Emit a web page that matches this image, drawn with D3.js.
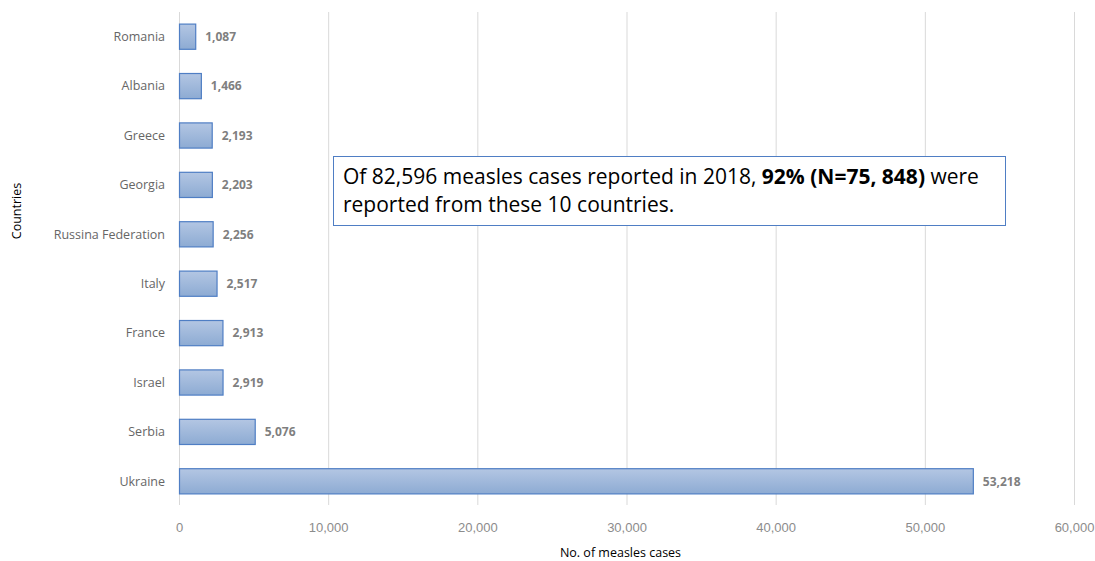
<!DOCTYPE html>
<html>
<head>
<meta charset="utf-8">
<script src="https://cdnjs.cloudflare.com/ajax/libs/d3/7.8.5/d3.min.js"></script>
<style>
  body { margin: 0; background: #fff; }
  svg { font-family: "Open Sans", "Noto Sans", sans-serif; }
  .grid line { stroke: #d9d9d9; stroke-width: 1px; }
  .cat { fill: #666666; font-size: 12.5px; }
  .val { fill: #7f7f7f; font-size: 12px; font-weight: bold; }
  .tick text { fill: #8c8c8c; font-size: 13px; }
  .title { fill: #000; font-size: 12.5px; }
</style>
</head>
<body>
<svg width="1095" height="561"></svg>
<script>
var countries = ["Romania", "Albania", "Greece", "Georgia", "Russina Federation",
                 "Italy", "France", "Israel", "Serbia", "Ukraine"];
var cases = [1087, 1466, 2193, 2203, 2256, 2517, 2913, 2919, 5076, 53218];
var xTicks = [0, 10000, 20000, 30000, 40000, 50000, 60000];
var noteLine1 = ["Of 82,596 measles cases reported in 2018, ", "92% (N=75, 848)", " were"];
var noteLine2 = "reported from these 10 countries.";

var svg = d3.select("svg");
var plotLeft = 179, plotRight = 1074, plotTop = 12, plotBottom = 506;

var x = d3.scaleLinear().domain([0, 60000]).range([plotLeft, plotRight]);
var y = d3.scaleBand().domain(countries).range([plotTop, plotBottom]).paddingInner(0.49).paddingOuter(0.245);

var defs = svg.append("defs");
var grad = defs.append("linearGradient").attr("id", "barfill")
  .attr("x1", 0).attr("y1", 0).attr("x2", 0).attr("y2", 1);
grad.append("stop").attr("offset", "0%").attr("stop-color", "#b3c6e3");
grad.append("stop").attr("offset", "100%").attr("stop-color", "#8dabd3");

// grid lines
svg.append("g").attr("class", "grid")
  .selectAll("line").data(xTicks).enter().append("line")
  .attr("x1", function(d){ return x(d) + 0.5; })
  .attr("x2", function(d){ return x(d) + 0.5; })
  .attr("y1", plotTop).attr("y2", plotBottom - 1);

// bars
var rows = countries.map(function(c, i){ return {name: c, value: cases[i]}; });
svg.selectAll("rect.bar").data(rows).enter().append("rect")
  .attr("class", "bar")
  .attr("x", x(0) + 0.5)
  .attr("y", function(d){ return y(d.name); })
  .attr("width", function(d){ return x(d.value) - x(0); })
  .attr("height", y.bandwidth())
  .attr("fill", "url(#barfill)")
  .attr("stroke", "#4f7ec4")
  .attr("stroke-width", 1.2);

// value labels
svg.selectAll("text.val").data(rows).enter().append("text")
  .attr("class", "val")
  .attr("x", function(d){ return x(d.value) + 10; })
  .attr("y", function(d){ return y(d.name) + y.bandwidth() / 2; })
  .attr("dy", "0.35em")
  .text(function(d){ return d3.format(",")(d.value); });

// category labels
svg.selectAll("text.cat").data(rows).enter().append("text")
  .attr("class", "cat")
  .attr("x", plotLeft - 14)
  .attr("y", function(d){ return y(d.name) + y.bandwidth() / 2; })
  .attr("dy", "0.35em")
  .attr("text-anchor", "end")
  .text(function(d){ return d.name; });

// x axis
var xAxis = d3.axisBottom(x).tickValues(xTicks).tickFormat(d3.format(",")).tickSize(0).tickPadding(0);
var ax = svg.append("g").attr("transform", "translate(0," + 521 + ")").call(xAxis);
ax.select(".domain").remove();
ax.selectAll(".tick text").attr("dy", "0.35em").attr("y", 6);

// axis titles
svg.append("text").attr("class", "title")
  .attr("x", (plotLeft + plotRight) / 2 - 6).attr("y", 561 - 4)
  .attr("text-anchor", "middle").text("No. of measles cases");
svg.append("text").attr("class", "title")
  .attr("transform", "translate(21,211) rotate(-90)")
  .attr("text-anchor", "middle").text("Countries");

// annotation
svg.append("rect").attr("x", 333.5).attr("y", 156.5).attr("width", 672).attr("height", 69)
  .attr("fill", "#fff").attr("stroke", "#4f7ec4").attr("stroke-width", 1);
var t1 = svg.append("text").attr("x", 343).attr("y", 184).attr("font-size", "21px").attr("fill", "#000");
noteLine1.forEach(function(s, i){
  t1.append("tspan").attr("font-weight", i === 1 ? "bold" : "normal").text(s);
});
svg.append("text").attr("x", 343).attr("y", 212).attr("font-size", "21px").attr("fill", "#000").text(noteLine2);
</script>
</body>
</html>
